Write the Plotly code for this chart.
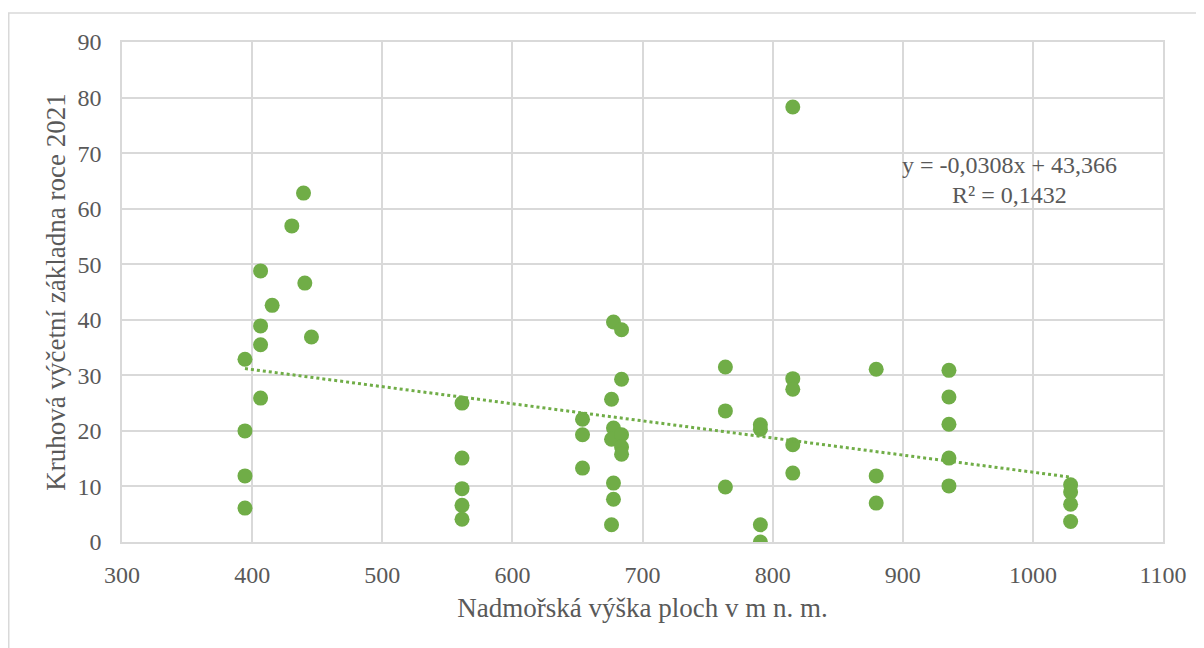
import plotly.graph_objects as go

# plot elevation (m a.s.l.) and basal area in 2021
ELEVATION = [394.5, 394.5, 394.5, 394.5,
             406.5, 406.5, 406.5, 406.5,
             415.4, 430.5, 439.5, 440.5, 445.6,
             561.3, 561.3, 561.3, 561.3, 561.3,
             653.9, 653.9, 653.9,
             677.7, 677.7, 677.7, 677.7,
             676.2, 676.2, 676.2,
             683.9, 683.9, 683.9, 683.9, 683.9,
             763.7, 763.7, 763.7,
             790.6, 790.6, 790.6, 790.6,
             815.5, 815.5, 815.5, 815.5, 815.5,
             879.6, 879.6, 879.6,
             935.5, 935.5, 935.5, 935.5, 935.5,
             1029, 1029, 1029, 1029]
BASAL_AREA = [32.9, 20.0, 11.9, 6.1,
              48.8, 38.9, 35.5, 25.9,
              42.6, 56.9, 62.8, 46.6, 36.9,
              25.0, 15.1, 9.6, 6.6, 4.1,
              22.1, 19.3, 13.3,
              39.6, 20.5, 10.6, 7.7,
              25.7, 18.5, 3.1,
              38.2, 29.3, 19.3, 17.1, 15.8,
              31.5, 23.6, 9.9,
              21.1, 20.3, 3.1, 0.0,
              78.3, 29.4, 27.5, 17.5, 12.4,
              31.1, 11.9, 7.0,
              30.9, 26.1, 21.2, 15.1, 10.1,
              10.3, 9.0, 6.8, 3.7]

# linear trendline as reported in the chart
SLOPE = -0.0308
INTERCEPT = 43.366
EQUATION = "y = -0,0308x + 43,366"
R_SQUARED = "R² = 0,1432"

X_TITLE = "Nadmořská výška ploch v m n. m."
Y_TITLE = "Kruhová výčetní základna roce 2021"

GREEN = "#70AD47"
GRID = "#d9d9d9"
TEXT = "#595959"
FONT = "Liberation Serif"

trend_x = [min(ELEVATION), max(ELEVATION)]
trend_y = [SLOPE * x + INTERCEPT for x in trend_x]

fig = go.Figure()
fig.add_trace(go.Scatter(x=ELEVATION, y=BASAL_AREA, mode="markers",
                         marker=dict(color=GREEN, size=15), showlegend=False))
fig.add_trace(go.Scatter(x=trend_x, y=trend_y, mode="lines",
                         line=dict(color=GREEN, width=3, dash="dot"), showlegend=False))

fig.add_annotation(x=982, y=67.9, xref="x", yref="y", text=EQUATION, showarrow=False,
                   font=dict(family=FONT, size=24, color=TEXT))
fig.add_annotation(x=982, y=62.5, xref="x", yref="y", text=R_SQUARED, showarrow=False,
                   font=dict(family=FONT, size=24, color=TEXT))

# outer chart border (page adds an 8px margin, so the left edge sits at the figure edge)
fig.add_shape(type="rect", xref="paper", yref="paper", x0=-0.1088, y0=-0.4, x1=1.2, y1=1.058,
              line=dict(color=GRID, width=1.5), layer="below")

fig.update_layout(
    width=1204, height=648,
    margin=dict(l=114, r=49, t=34, b=114),
    paper_bgcolor="white", plot_bgcolor="white",
    font=dict(family=FONT, size=24, color=TEXT),
    xaxis=dict(range=[300, 1100], dtick=100, showgrid=True, gridcolor=GRID, gridwidth=1.5,
               zeroline=False, showline=True, linecolor=GRID, linewidth=1.5, mirror=True,
               ticks="", ticklabelstandoff=10,
               title=dict(text=X_TITLE, font=dict(size=27), standoff=12)),
    yaxis=dict(range=[0, 90], dtick=10, showgrid=True, gridcolor=GRID, gridwidth=1.5,
               zeroline=False, showline=True, linecolor=GRID, linewidth=1.5, mirror=True,
               ticks="", ticklabelstandoff=14,
               title=dict(text=Y_TITLE, font=dict(size=27), standoff=4)),
)

fig.write_html("out.html")
